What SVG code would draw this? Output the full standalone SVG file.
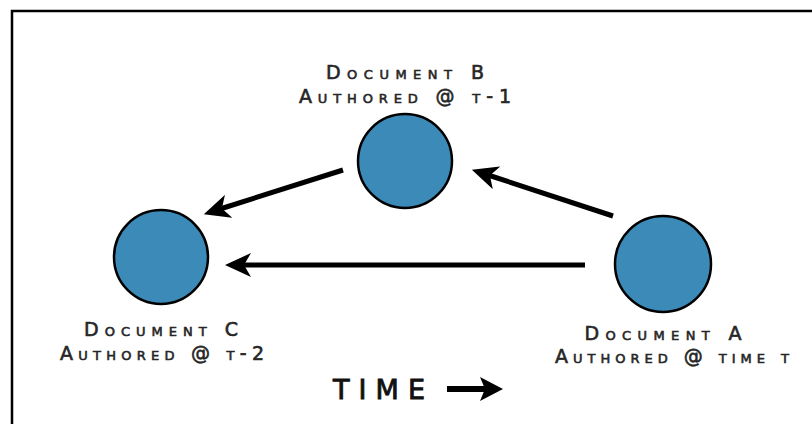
<svg xmlns="http://www.w3.org/2000/svg" width="812" height="424" viewBox="0 0 812 424">
  <defs>
    <style>
      .frame { fill: none; stroke: #000; stroke-width: 2.5; }
      .doc { fill: #3b8ab8; stroke: #000; stroke-width: 2.5; }
      .edge { fill: none; stroke: #000; stroke-width: 5; marker-end: url(#head); }
      .label { font-family: "DejaVu Sans", "Liberation Sans", sans-serif; font-size: 19px; font-variant: small-caps; fill: #262626; stroke: #262626; stroke-width: 0.6; text-anchor: middle; }
      .time { font-family: "DejaVu Sans", "Liberation Sans", sans-serif; font-size: 27px; fill: #111; stroke: #111; stroke-width: 0.9; text-anchor: middle; }
    </style>
    <marker id="head" markerUnits="userSpaceOnUse" viewBox="0 0 26 24" refX="9" refY="12" markerWidth="26" markerHeight="24" orient="auto">
      <path d="M26,12 L0,0 L7,12 L0,24 Z" fill="#000"/>
    </marker>
  </defs>

  <rect class="frame" x="12" y="11" width="820" height="430"/>

  <g id="connectors">
    <line class="edge" x1="613" y1="216" x2="488" y2="175"/>
    <line class="edge" x1="343" y1="170" x2="220" y2="209"/>
    <line class="edge" x1="585" y1="265" x2="242" y2="265"/>
  </g>

  <g id="doc-b">
    <circle class="doc" cx="405" cy="161" r="47"/>
    <text class="label" x="405" y="79" textLength="158" lengthAdjust="spacing">Document B</text>
    <text class="label" x="405" y="103" textLength="212" lengthAdjust="spacing">Authored @ t-1</text>
  </g>

  <g id="doc-c">
    <circle class="doc" cx="161" cy="257" r="47"/>
    <text class="label" x="161" y="336" textLength="154" lengthAdjust="spacing">Document C</text>
    <text class="label" x="162" y="360" textLength="204" lengthAdjust="spacing">Authored @ t-2</text>
  </g>

  <g id="doc-a">
    <circle class="doc" cx="663" cy="264" r="48"/>
    <text class="label" x="663" y="340" textLength="157" lengthAdjust="spacing">Document A</text>
    <text class="label" x="672" y="363" textLength="234" lengthAdjust="spacing">Authored @ time t</text>
  </g>

  <g id="time-axis">
    <text class="time" x="379" y="399" textLength="92" lengthAdjust="spacing">TIME</text>
    <line x1="447" y1="389" x2="486" y2="389" stroke="#000" stroke-width="6"/>
    <path d="M503,389 L480,377 L485,389 L480,401 Z" fill="#000"/>
  </g>
</svg>
